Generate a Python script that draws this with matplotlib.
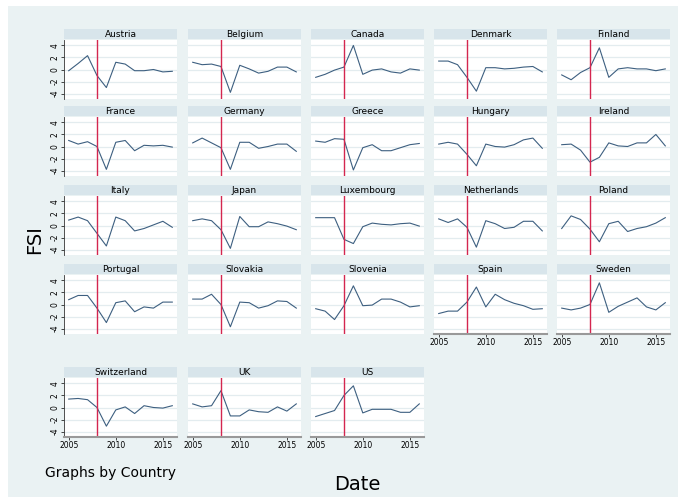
import matplotlib
matplotlib.use("Agg")
import matplotlib.pyplot as plt
from matplotlib.patches import Rectangle

years = list(range(2005, 2017))
countries = ["Austria","Belgium","Canada","Denmark","Finland","France","Germany","Greece","Hungary","Ireland",
             "Italy","Japan","Luxembourg","Netherlands","Poland","Portugal","Slovakia","Slovenia","Spain","Sweden",
             "Switzerland","UK","US"]
austria = [-0.2, 1.0, 2.3, -1.0, -3.0, 1.2, 0.9, -0.2, -0.2, 0.0, -0.4, -0.3]
belgium = [1.2, 0.8, 0.9, 0.5, -3.8, 0.7, 0.1, -0.6, -0.3, 0.4, 0.4, -0.4]
canada = [-1.3, -0.8, -0.1, 0.4, 4.0, -0.8, -0.1, 0.1, -0.4, -0.6, 0.1, -0.1]
denmark = [1.4, 1.4, 0.8, -1.3, -3.6, 0.3, 0.3, 0.1, 0.2, 0.4, 0.5, -0.4]
finland = [-0.9, -1.7, -0.5, 0.3, 3.6, -1.3, 0.1, 0.3, 0.1, 0.1, -0.2, 0.1]
france = [1.0, 0.4, 0.8, 0.0, -3.8, 0.7, 1.0, -0.7, 0.2, 0.1, 0.2, -0.1]
germany = [0.6, 1.4, 0.6, -0.2, -3.8, 0.7, 0.7, -0.3, 0.0, 0.4, 0.4, -0.8]
greece = [0.9, 0.7, 1.3, 1.2, -3.9, -0.2, 0.3, -0.7, -0.7, -0.2, 0.3, 0.5]
hungary = [0.4, 0.7, 0.4, -1.3, -3.2, 0.4, 0.0, -0.1, 0.3, 1.1, 1.4, -0.3]
ireland = [0.3, 0.4, -0.6, -2.6, -1.8, 0.6, 0.1, 0.0, 0.6, 0.6, 2.0, 0.1]
italy = [0.9, 1.4, 0.8, -1.3, -3.4, 1.4, 0.8, -0.9, -0.5, 0.1, 0.7, -0.3]
japan = [0.8, 1.1, 0.8, -0.7, -3.8, 1.5, -0.2, -0.2, 0.6, 0.3, -0.1, -0.7]
luxembourg = [1.3, 1.3, 1.3, -2.3, -3.0, -0.2, 0.4, 0.2, 0.1, 0.3, 0.4, -0.1]
netherlands = [1.1, 0.5, 1.1, -0.3, -3.6, 0.8, 0.3, -0.5, -0.3, 0.7, 0.7, -0.9]
poland = [-0.5, 1.6, 1.0, -0.6, -2.7, 0.3, 0.7, -1.0, -0.5, -0.2, 0.4, 1.3]
portugal = [0.8, 1.5, 1.5, -0.6, -3.0, 0.3, 0.6, -1.2, -0.4, -0.6, 0.4, 0.4]
slovakia = [0.9, 0.9, 1.7, 0.0, -3.7, 0.4, 0.3, -0.6, -0.2, 0.6, 0.5, -0.6]
slovenia = [-0.7, -1.1, -2.5, -0.2, 3.1, -0.2, -0.1, 0.9, 0.9, 0.4, -0.4, -0.2]
spain = [-1.5, -1.1, -1.1, 0.4, 2.9, -0.4, 1.7, 0.8, 0.2, -0.2, -0.8, -0.7]
sweden = [-0.6, -0.9, -0.6, 0.0, 3.6, -1.3, -0.3, 0.4, 1.1, -0.4, -0.9, 0.3]
switzerland = [1.4, 1.5, 1.3, 0.0, -3.1, -0.4, 0.1, -1.0, 0.3, 0.0, -0.1, 0.3]
uk = [0.6, 0.1, 0.3, 2.8, -1.4, -1.4, -0.4, -0.7, -0.8, 0.1, -0.6, 0.6]
us = [-1.5, -1.0, -0.5, 2.0, 3.6, -0.9, -0.3, -0.3, -0.3, -0.8, -0.8, 0.6]
series = [austria, belgium, canada, denmark, finland, france, germany, greece, hungary, ireland,
          italy, japan, luxembourg, netherlands, poland, portugal, slovakia, slovenia, spain, sweden,
          switzerland, uk, us]
crisis_year = 2008
yticks = [-4, -2, 0, 2, 4]
xticks = [2005, 2010, 2015]

W, H = 678, 497
fig = plt.figure(figsize=(W/100, H/100), dpi=100)
bg = "#EAF2F3"
fig.patch.set_facecolor("white")
fig.patches.append(Rectangle((8/W, 0), 1, 1-6/H, transform=fig.transFigure,
                             facecolor=bg, edgecolor="none", zorder=-10))
col_left = [64, 188, 311, 434, 557]
row_top = [40, 117, 196, 275, 378]
pw, ph = 113, 59

for i, (name, vals) in enumerate(zip(countries, series)):
    r, c = divmod(i, 5)
    x0, y0 = col_left[c], row_top[r]
    ax = fig.add_axes([x0/W, 1-(y0+ph)/H, pw/W, ph/H])
    ax.set_facecolor("white")
    for v in yticks:
        ax.axhline(v, color="#E3ECEF", lw=0.9, zorder=0)
    ax.plot(years, vals, color="#3d5f80", lw=0.8)
    ax.axvline(crisis_year, color="#D4264F", lw=1.0)
    ax.set_xlim(2004.5, 2016.5)
    ax.set_ylim(-4.9, 4.9)
    for s in ax.spines.values():
        s.set_visible(False)
    ax.set_yticks(yticks)
    ax.set_xticks(xticks)
    below = i + 5 < len(countries)
    if c == 0:
        ax.spines["left"].set_visible(True)
        ax.spines["left"].set_color("#333333")
        ax.spines["left"].set_linewidth(0.6)
        ax.set_yticklabels([str(v) for v in yticks], rotation=90, va="center", fontsize=5.5)
        ax.tick_params(axis="y", length=2, width=0.5, pad=1)
    else:
        ax.tick_params(axis="y", left=False, labelleft=False)
    if not below:
        ax.spines["bottom"].set_visible(True)
        ax.spines["bottom"].set_color("#999999")
        ax.spines["bottom"].set_linewidth(1.5)
        ax.set_xticklabels([str(v) for v in xticks], fontsize=5.5)
        ax.tick_params(axis="x", length=2, width=0.5, pad=1)
    else:
        ax.tick_params(axis="x", bottom=False, labelbottom=False)
    tb = fig.add_axes([x0/W, 1-(y0-1)/H, pw/W, 10/H])
    tb.set_facecolor("#D8E5EB")
    tb.set_xticks([]); tb.set_yticks([])
    for s in tb.spines.values():
        s.set_visible(False)
    tb.text(0.5, 0.45, name, ha="center", va="center", fontsize=6.5, transform=tb.transAxes)

fig.text(35/W, 1-240/H, "FSI", rotation=90, ha="center", va="center", fontsize=14)
fig.text(357/W, 1-485/H, "Date", ha="center", va="center", fontsize=14)
fig.text(45/W, 1-473/H, "Graphs by Country", ha="left", va="center", fontsize=10)
fig.savefig("out.png", dpi=100, facecolor="white")
